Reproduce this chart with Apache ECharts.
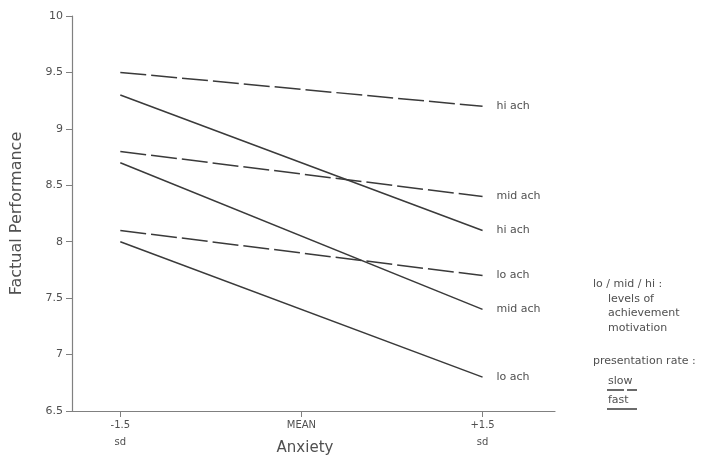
<!DOCTYPE html>
<html>
<head>
<meta charset="utf-8">
<script src="https://cdn.jsdelivr.net/npm/echarts@6/dist/echarts.min.js"></script>
<style>
  html, body { margin: 0; padding: 0; background: #fff; }
  #chart { width: 707px; height: 455px; }
</style>
</head>
<body>
<div id="chart"></div>
<script>
// anxiety positions (sd units) and their tick labels
const xTicks = [-1.5, 0, 1.5];
const xTickLabels = ["-1.5\nsd", "MEAN", "+1.5\nsd"];
const xPoints = [-1.5, 1.5];

// slow presentation rate (dashed)
const slowHi = [9.5, 9.2];
const slowMid = [8.8, 8.4];
const slowLo = [8.1, 7.7];
// fast presentation rate (solid)
const fastHi = [9.3, 8.1];
const fastMid = [8.7, 7.4];
const fastLo = [8.0, 6.8];

const lineColor = "#3a3a3a";
const axisColor = "#808080";
const textColor = "#505050";
const font = "DejaVu Sans";
const smallFont = "11px DejaVu Sans";

function makeSeries(name, label, values, dashed) {
  return {
    name: name,
    type: "line",
    symbol: "none",
    silent: true,
    lineStyle: {
      color: lineColor,
      width: 1.5,
      type: dashed ? [26, 5] : "solid",
    },
    endLabel: {
      show: true,
      formatter: label,
      distance: 14,
      color: textColor,
      fontFamily: font,
      fontSize: 11,
    },
    data: xPoints.map((x, i) => [x, values[i]]),
  };
}

function legendText(x, y, text) {
  return { type: "text", x: x, y: y, style: { text: text, fill: textColor, font: smallFont, verticalAlign: "middle" } };
}

const chart = echarts.init(document.getElementById("chart"));
chart.setOption({
  animation: false,
  backgroundColor: "#fff",
  grid: { left: 72, top: 16, right: 152, bottom: 44, outerBoundsMode: "none" },
  xAxis: {
    type: "value",
    min: -1.9,
    max: 2.1,
    name: "Anxiety",
    nameLocation: "middle",
    nameGap: 30,
    nameMoveOverlap: false,
    nameTextStyle: {
      color: textColor,
      fontFamily: font,
      fontSize: 15,
      padding: [0, 17, 0, 0],
    },
    splitLine: { show: false },
    axisLine: { lineStyle: { color: axisColor, width: 1.2 } },
    axisTick: {
      customValues: xTicks,
      length: 6,
      lineStyle: { color: axisColor },
    },
    axisLabel: {
      customValues: xTicks,
      margin: 6,
      color: textColor,
      fontFamily: font,
      fontSize: 10,
      lineHeight: 17,
      formatter: (v) => xTickLabels[xTicks.indexOf(v)],
    },
  },
  yAxis: {
    type: "value",
    min: 6.5,
    max: 10,
    interval: 0.5,
    name: "Factual Performance",
    nameLocation: "middle",
    nameGap: 47,
    nameTextStyle: { color: textColor, fontFamily: font, fontSize: 16 },
    splitLine: { show: false },
    axisLine: { show: true, onZero: false, lineStyle: { color: axisColor, width: 1.2 } },
    axisTick: { show: true, length: 6, lineStyle: { color: axisColor } },
    axisLabel: {
      margin: 9,
      color: textColor,
      fontFamily: font,
      fontSize: 11,
    },
  },
  series: [
    makeSeries("slow hi", "hi ach", slowHi, true),
    makeSeries("slow mid", "mid ach", slowMid, true),
    makeSeries("slow lo", "lo ach", slowLo, true),
    makeSeries("fast hi", "hi ach", fastHi, false),
    makeSeries("fast mid", "mid ach", fastMid, false),
    makeSeries("fast lo", "lo ach", fastLo, false),
  ],
  graphic: [
    legendText(593, 284, "lo / mid / hi :"),
    legendText(608, 299, "levels of"),
    legendText(608, 313, "achievement"),
    legendText(608, 328, "motivation"),
    legendText(593, 361, "presentation rate :"),
    legendText(608, 381, "slow"),
    { type: "line", shape: { x1: 607, y1: 390, x2: 637, y2: 390 }, style: { stroke: lineColor, lineWidth: 1.5, lineDash: [17, 3] } },
    legendText(608, 400, "fast"),
    { type: "line", shape: { x1: 607, y1: 409, x2: 637, y2: 409 }, style: { stroke: lineColor, lineWidth: 1.5 } },
  ],
});
</script>
</body>
</html>
